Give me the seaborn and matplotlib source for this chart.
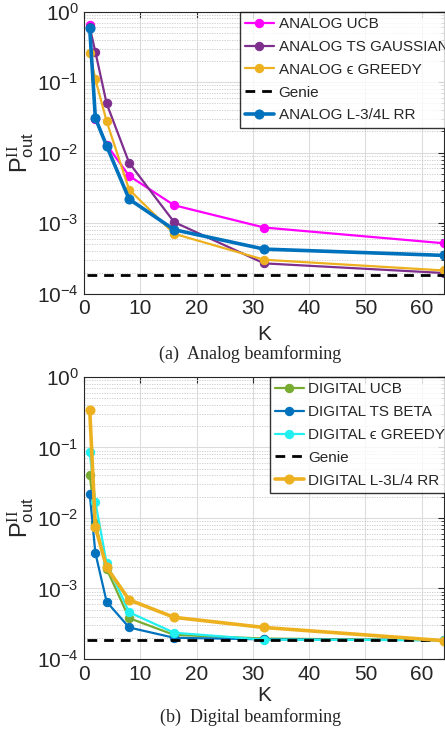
import numpy as np
import pandas as pd
import seaborn as sns
import matplotlib.pyplot as plt
from matplotlib.ticker import LogLocator, NullFormatter

# valores
K = [1, 2, 4, 8, 16, 32, 64]

analog_ucb = [0.65, 0.030, 0.013, 0.0047, 0.0018, 8.7e-4, 5.2e-4]
analog_ts_gauss = [0.60, 0.27, 0.050, 0.0072, 1.04e-3, 2.7e-4, 1.97e-4]
analog_eps = [0.26, 0.11, 0.028, 0.0030, 7.1e-4, 3.04e-4, 2.14e-4]
analog_rr = [0.58, 0.031, 0.0125, 0.0022, 8.1e-4, 4.3e-4, 3.5e-4]

digital_ucb = [0.041, 0.0085, 0.0019, 3.8e-4, 2.2e-4, 1.95e-4, 1.85e-4]
digital_ts_beta = [0.022, 0.0032, 6.5e-4, 2.8e-4, 2.0e-4, 1.9e-4, 1.85e-4]
digital_eps = [0.086, 0.0168, 0.0023, 4.6e-4, 2.36e-4, 1.88e-4, 1.85e-4]
digital_rr = [0.34, 0.0074, 0.0020, 6.9e-4, 3.9e-4, 2.8e-4, 1.82e-4]

genie = 1.85e-4

analog_series = [
    ("ANALOG UCB", analog_ucb, "#FF00FF", 1.6),
    ("ANALOG TS GAUSSIAN", analog_ts_gauss, "#7E2F8E", 1.6),
    ("ANALOG ϵ GREEDY", analog_eps, "#EDB120", 1.6),
    ("Genie", None, "black", 2.0),
    ("ANALOG L-3/4L RR", analog_rr, "#0072BD", 2.6),
]
digital_series = [
    ("DIGITAL UCB", digital_ucb, "#77AC30", 1.6),
    ("DIGITAL TS BETA", digital_ts_beta, "#0072BD", 1.6),
    ("DIGITAL ϵ GREEDY", digital_eps, "#22F0F0", 1.6),
    ("Genie", None, "black", 2.0),
    ("DIGITAL L-3L/4 RR", digital_rr, "#EDB120", 2.6),
]

sns.set_style("white")
plt.rcParams['font.family'] = ['Liberation Sans', 'DejaVu Sans']
plt.rcParams['mathtext.fontset'] = 'custom'
plt.rcParams['mathtext.rm'] = 'Liberation Serif'
plt.rcParams['mathtext.sf'] = 'Liberation Sans'
plt.rcParams['mathtext.it'] = 'Liberation Sans:italic'

fig = plt.figure(figsize=(4.45, 7.29), dpi=100)
ax_a = fig.add_axes([0.189, 0.597, 0.809, 0.387])
ax_b = fig.add_axes([0.189, 0.096, 0.809, 0.387])


def draw_panel(ax, series, leg_x, xpad):
    for name, vals, color, lw in series:
        if vals is None:
            df = pd.DataFrame({"K": [0.6, 64], "P": [genie, genie]})
            sns.lineplot(data=df, x="K", y="P", ax=ax, color=color, lw=lw,
                         linestyle=(0, (3.5, 2.5)), label=name)
        else:
            df = pd.DataFrame({"K": K, "P": vals})
            sns.lineplot(data=df, x="K", y="P", ax=ax, color=color, lw=lw,
                         marker="o", markersize=6 if lw < 2 else 6.5,
                         markeredgecolor=color, label=name)
    ax.set_yscale("log")
    ax.set_xlim(0, 64)
    ax.set_ylim(1e-4, 1)
    ax.set_xticks([0, 10, 20, 30, 40, 50, 60])
    ax.yaxis.set_major_locator(LogLocator(base=10, numticks=10))
    ax.yaxis.set_minor_locator(LogLocator(base=10, subs=np.arange(2, 10), numticks=10))
    ax.yaxis.set_minor_formatter(NullFormatter())
    ax.grid(True, which="major", color="#dcdcdc", lw=0.8)
    ax.grid(True, which="minor", axis="y", color="#c8c8c8", lw=0.6, linestyle=(0, (1.5, 1.5)))
    ax.tick_params(axis="both", which="major", direction="in", top=True, right=True,
                   labelsize=15, length=4, colors="#262626", pad=4)
    ax.tick_params(axis="y", which="minor", direction="in", right=True, length=2)
    for s in ax.spines.values():
        s.set_color("#262626")
        s.set_linewidth(0.8)
    ax.set_xlabel("K", fontsize=15, labelpad=xpad)
    ax.set_ylabel(r"$\mathsf{P}_{\mathsf{out}}^{\mathrm{II}}$", fontsize=17, labelpad=0)
    leg = ax.legend(loc="upper left", bbox_to_anchor=(leg_x, 1.0), fontsize=11,
                    frameon=True, fancybox=False, edgecolor="black",
                    handlelength=1.9, handletextpad=0.3, labelspacing=0.58,
                    borderpad=0.35, borderaxespad=0)
    leg.get_frame().set_linewidth(1.0)


draw_panel(ax_a, analog_series, 0.432, 5)
draw_panel(ax_b, digital_series, 0.515, 2)

fig.text(0.562, 0.515, "(a)  Analog beamforming", ha="center", va="center",
         fontsize=13, family="Liberation Serif")
fig.text(0.562, 0.017, "(b)  Digital beamforming", ha="center", va="center",
         fontsize=13, family="Liberation Serif")

fig.savefig("out.png", dpi=100)
